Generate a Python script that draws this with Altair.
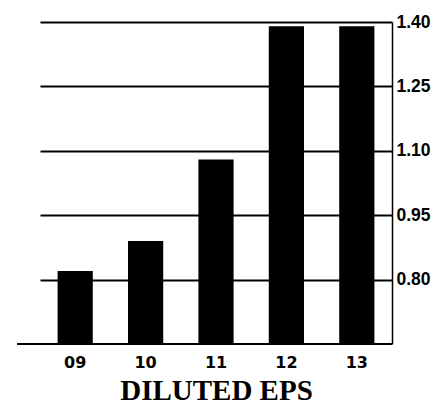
import altair as alt
import pandas as pd

years = ["09", "10", "11", "12", "13"]
eps = [0.82, 0.89, 1.08, 1.39, 1.39]
y_ticks = [0.80, 0.95, 1.10, 1.25, 1.40]
y_min, y_max = 0.65, 1.40
title_text = "DILUTED EPS"

df = pd.DataFrame({"year": years, "eps": eps})

W, H = 352, 322

bars = alt.Chart(df).mark_bar(color="black").encode(
    x=alt.X("year:N", sort=years,
            scale=alt.Scale(paddingInner=0.5, paddingOuter=0.25),
            axis=alt.Axis(title=title_text, labelAngle=0, domain=False, ticks=False,
                          labelFont="DejaVu Sans", labelFontWeight="bold", labelFontSize=16,
                          labelColor="black", labelPadding=10,
                          titleFont="Liberation Serif", titleFontWeight="bold",
                          titleFontSize=29, titleColor="black", titlePadding=6)),
    y=alt.Y("eps:Q", scale=alt.Scale(domain=[y_min, y_max], nice=False, zero=False),
            axis=alt.Axis(orient="right", values=y_ticks, format=".2f", title=None,
                          grid=True, gridColor="black", gridWidth=2, gridOpacity=1,
                          domain=True, domainColor="black", domainWidth=1.5,
                          ticks=False, labelPadding=4,
                          labelFont="Liberation Sans", labelFontWeight="bold", labelFontSize=17.5,
                          labelColor="black")),
    y2=alt.datum(y_min),
)

base_line = alt.Chart(alt.Data(values=[{}])).mark_rule(color="black", strokeWidth=2).encode(
    x=alt.value(-23), x2=alt.value(W), y=alt.value(H)
)

chart = alt.layer(bars, base_line).properties(
    width=W, height=H,
    autosize=alt.AutoSizeParams(type="none"),
    padding={"left": 32, "top": 14, "right": 40, "bottom": 61},
    background="white",
).configure_view(stroke=None)

chart.save("out.html", embed_options={"renderer": "svg", "actions": False})
